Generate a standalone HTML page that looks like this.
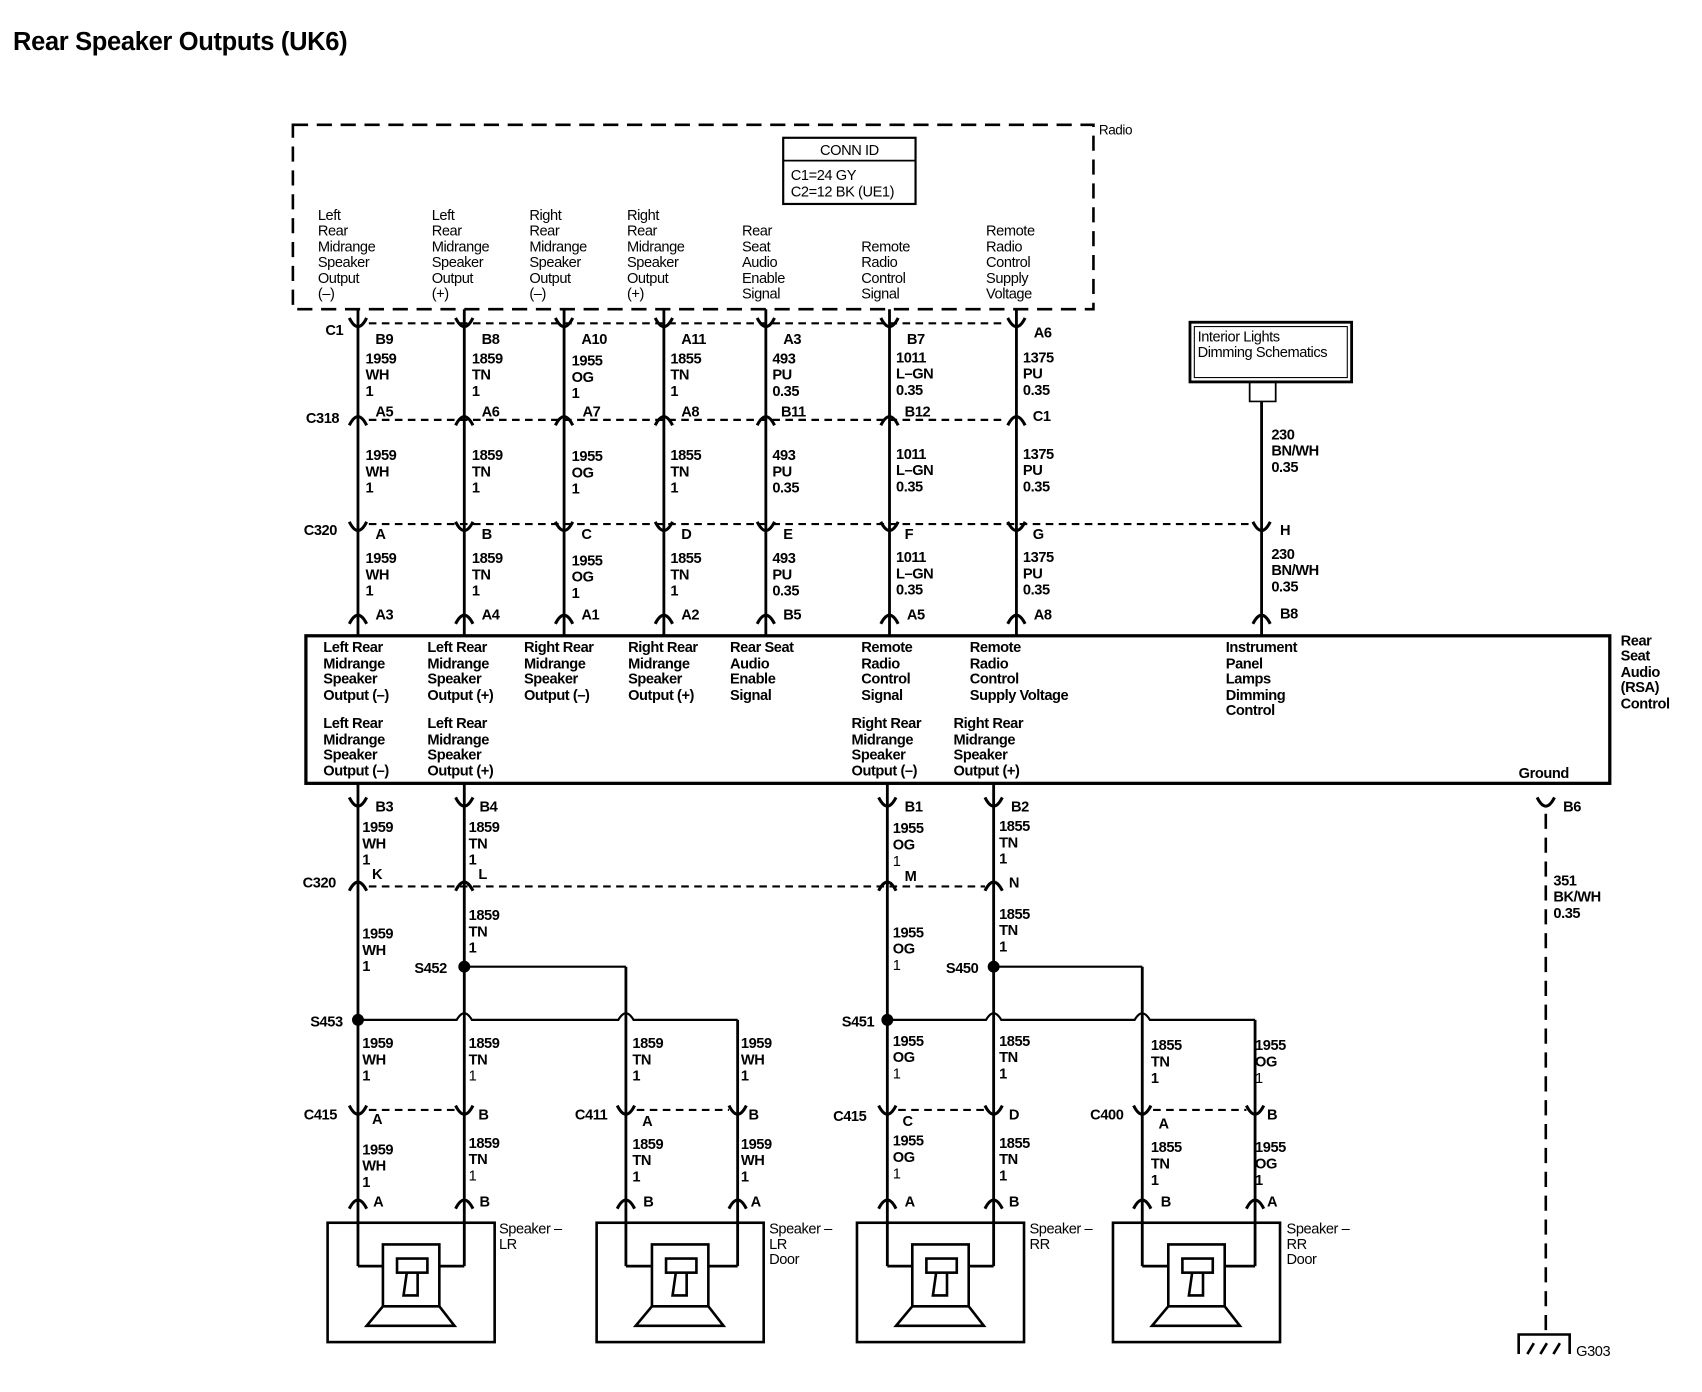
<!DOCTYPE html>
<html><head><meta charset="utf-8"><style>
html,body{margin:0;padding:0;background:#fff;}
svg{display:block}
text{font-family:"Liberation Sans",sans-serif;font-size:13.5px;font-weight:bold;fill:#000;letter-spacing:-0.4px}
.n{font-weight:normal}
.w{stroke:#000;stroke-width:2.6;fill:none}
.t{stroke:#000;stroke-width:1.6;fill:none}
.d{stroke:#000;stroke-width:2;fill:none;stroke-dasharray:7 5}
.s{stroke:#000;stroke-width:2.4;fill:none}
.a{stroke:#000;stroke-width:2.8;fill:none}
</style></head><body>
<svg width="1702" height="1392" viewBox="0 0 1569 1283" preserveAspectRatio="none" xmlns="http://www.w3.org/2000/svg">
<text x="12" y="46" style="font-size:23.5px;letter-spacing:-0.3px">Rear Speaker Outputs (UK6)</text>

<!-- Radio box -->
<rect x="270" y="115" width="738" height="170" class="d" style="stroke-width:2.4;stroke-dasharray:14 8"/>
<text x="1013" y="124" class="n" style="font-size:12.5px">Radio</text>
<rect x="722" y="127" width="122" height="61" class="s" style="stroke-width:2"/>
<line x1="722" y1="148" x2="844" y2="148" class="t"/>
<text x="783" y="143" text-anchor="middle" class="n">CONN ID</text>
<text x="729" y="166" class="n">C1=24 GY</text>
<text x="729" y="181" class="n">C2=12 BK (UE1)</text>

<g class="n">
<text x="293" y="203" class="n">Left</text><text x="293" y="217" class="n">Rear</text><text x="293" y="232" class="n">Midrange</text><text x="293" y="246" class="n">Speaker</text><text x="293" y="261" class="n">Output</text><text x="293" y="275" class="n">(–)</text>
<text x="398" y="203" class="n">Left</text><text x="398" y="217" class="n">Rear</text><text x="398" y="232" class="n">Midrange</text><text x="398" y="246" class="n">Speaker</text><text x="398" y="261" class="n">Output</text><text x="398" y="275" class="n">(+)</text>
<text x="488" y="203" class="n">Right</text><text x="488" y="217" class="n">Rear</text><text x="488" y="232" class="n">Midrange</text><text x="488" y="246" class="n">Speaker</text><text x="488" y="261" class="n">Output</text><text x="488" y="275" class="n">(–)</text>
<text x="578" y="203" class="n">Right</text><text x="578" y="217" class="n">Rear</text><text x="578" y="232" class="n">Midrange</text><text x="578" y="246" class="n">Speaker</text><text x="578" y="261" class="n">Output</text><text x="578" y="275" class="n">(+)</text>
<text x="684" y="217" class="n">Rear</text><text x="684" y="232" class="n">Seat</text><text x="684" y="246" class="n">Audio</text><text x="684" y="261" class="n">Enable</text><text x="684" y="275" class="n">Signal</text>
<text x="794" y="232" class="n">Remote</text><text x="794" y="246" class="n">Radio</text><text x="794" y="261" class="n">Control</text><text x="794" y="275" class="n">Signal</text>
<text x="909" y="217" class="n">Remote</text><text x="909" y="232" class="n">Radio</text><text x="909" y="246" class="n">Control</text><text x="909" y="261" class="n">Supply</text><text x="909" y="275" class="n">Voltage</text>
</g>

<!-- Interior lights box -->
<rect x="1097" y="297" width="149" height="55" class="s" style="stroke-width:2.6"/>
<rect x="1101" y="301" width="141" height="47" class="t" style="stroke-width:1"/>
<text x="1104" y="315" class="n">Interior Lights</text>
<text x="1104" y="329" class="n">Dimming Schematics</text>
<path d="M1152 352 V370 H1176 V352" class="t"/>

<!-- top wires -->
<g class="w">
<line x1="330" y1="285" x2="330" y2="586"/><line x1="428" y1="285" x2="428" y2="586"/>
<line x1="520" y1="285" x2="520" y2="586"/><line x1="612" y1="285" x2="612" y2="586"/>
<line x1="706" y1="285" x2="706" y2="586"/><line x1="820" y1="285" x2="820" y2="586"/>
<line x1="937" y1="285" x2="937" y2="586"/><line x1="1163" y1="370" x2="1163" y2="586"/>
</g>
<g class="d">
<line x1="340" y1="298" x2="928" y2="298"/>
<line x1="340" y1="387" x2="928" y2="387"/>
<line x1="340" y1="483" x2="1155" y2="483"/>
</g>
<!-- connector symbols top -->
<g class="a" fill="#fff">
<path d="M322 293 Q330 309 338 293"/><path d="M420 293 Q428 309 436 293"/><path d="M512 293 Q520 309 528 293"/><path d="M604 293 Q612 309 620 293"/><path d="M698 293 Q706 309 714 293"/><path d="M812 293 Q820 309 828 293"/><path d="M929 293 Q937 309 945 293"/>
<path d="M322 392 Q330 376 338 392"/><path d="M420 392 Q428 376 436 392"/><path d="M512 392 Q520 376 528 392"/><path d="M604 392 Q612 376 620 392"/><path d="M698 392 Q706 376 714 392"/><path d="M812 392 Q820 376 828 392"/><path d="M929 392 Q937 376 945 392"/>
<path d="M322 481 Q330 497 338 481"/><path d="M420 481 Q428 497 436 481"/><path d="M512 481 Q520 497 528 481"/><path d="M604 481 Q612 497 620 481"/><path d="M698 481 Q706 497 714 481"/><path d="M812 481 Q820 497 828 481"/><path d="M929 481 Q937 497 945 481"/><path d="M1155 481 Q1163 497 1171 481"/>
<path d="M322 575 Q330 559 338 575"/><path d="M420 575 Q428 559 436 575"/><path d="M512 575 Q520 559 528 575"/><path d="M604 575 Q612 559 620 575"/><path d="M698 575 Q706 559 714 575"/><path d="M812 575 Q820 559 828 575"/><path d="M929 575 Q937 559 945 575"/><path d="M1155 575 Q1163 559 1171 575"/>
</g>
<!-- connector labels top -->
<text x="300" y="309">C1</text><text x="346" y="317">B9</text><text x="444" y="317">B8</text><text x="536" y="317">A10</text><text x="628" y="317">A11</text><text x="722" y="317">A3</text><text x="836" y="317">B7</text><text x="953" y="311">A6</text>
<text x="282" y="390">C318</text><text x="346" y="384">A5</text><text x="444" y="384">A6</text><text x="537" y="384">A7</text><text x="628" y="384">A8</text><text x="720" y="384">B11</text><text x="834" y="384">B12</text><text x="952" y="388">C1</text>
<text x="280" y="493">C320</text><text x="346" y="497">A</text><text x="444" y="497">B</text><text x="536" y="497">C</text><text x="628" y="497">D</text><text x="722" y="497">E</text><text x="834" y="497">F</text><text x="952" y="497">G</text><text x="1180" y="493">H</text>
<text x="346" y="571">A3</text><text x="444" y="571">A4</text><text x="536" y="571">A1</text><text x="628" y="571">A2</text><text x="722" y="571">B5</text><text x="836" y="571">A5</text><text x="953" y="571">A8</text><text x="1180" y="570">B8</text>

<!-- wire labels top -->
<g>
<text x="337" y="335">1959</text><text x="337" y="350">WH</text><text x="337" y="365">1</text>
<text x="435" y="335">1859</text><text x="435" y="350">TN</text><text x="435" y="365">1</text>
<text x="527" y="337">1955</text><text x="527" y="352">OG</text><text x="527" y="367">1</text>
<text x="618" y="335">1855</text><text x="618" y="350">TN</text><text x="618" y="365">1</text>
<text x="712" y="335">493</text><text x="712" y="350">PU</text><text x="712" y="365">0.35</text>
<text x="826" y="334">1011</text><text x="826" y="349">L–GN</text><text x="826" y="364">0.35</text>
<text x="943" y="334">1375</text><text x="943" y="349">PU</text><text x="943" y="364">0.35</text>

<text x="337" y="424">1959</text><text x="337" y="439">WH</text><text x="337" y="454">1</text>
<text x="435" y="424">1859</text><text x="435" y="439">TN</text><text x="435" y="454">1</text>
<text x="527" y="425">1955</text><text x="527" y="440">OG</text><text x="527" y="455">1</text>
<text x="618" y="424">1855</text><text x="618" y="439">TN</text><text x="618" y="454">1</text>
<text x="712" y="424">493</text><text x="712" y="439">PU</text><text x="712" y="454">0.35</text>
<text x="826" y="423">1011</text><text x="826" y="438">L–GN</text><text x="826" y="453">0.35</text>
<text x="943" y="423">1375</text><text x="943" y="438">PU</text><text x="943" y="453">0.35</text>
<text x="1172" y="405">230</text><text x="1172" y="420">BN/WH</text><text x="1172" y="435">0.35</text>

<text x="337" y="519">1959</text><text x="337" y="534">WH</text><text x="337" y="549">1</text>
<text x="435" y="519">1859</text><text x="435" y="534">TN</text><text x="435" y="549">1</text>
<text x="527" y="521">1955</text><text x="527" y="536">OG</text><text x="527" y="551">1</text>
<text x="618" y="519">1855</text><text x="618" y="534">TN</text><text x="618" y="549">1</text>
<text x="712" y="519">493</text><text x="712" y="534">PU</text><text x="712" y="549">0.35</text>
<text x="826" y="518">1011</text><text x="826" y="533">L–GN</text><text x="826" y="548">0.35</text>
<text x="943" y="518">1375</text><text x="943" y="533">PU</text><text x="943" y="548">0.35</text>
<text x="1172" y="515">230</text><text x="1172" y="530">BN/WH</text><text x="1172" y="545">0.35</text>
</g>

<!-- RSA box -->
<rect x="282" y="586" width="1202" height="136" class="s" style="stroke-width:3"/>
<g>
<text x="298" y="601">Left Rear</text><text x="298" y="616">Midrange</text><text x="298" y="630">Speaker</text><text x="298" y="645">Output (–)</text>
<text x="394" y="601">Left Rear</text><text x="394" y="616">Midrange</text><text x="394" y="630">Speaker</text><text x="394" y="645">Output (+)</text>
<text x="483" y="601">Right Rear</text><text x="483" y="616">Midrange</text><text x="483" y="630">Speaker</text><text x="483" y="645">Output (–)</text>
<text x="579" y="601">Right Rear</text><text x="579" y="616">Midrange</text><text x="579" y="630">Speaker</text><text x="579" y="645">Output (+)</text>
<text x="673" y="601">Rear Seat</text><text x="673" y="616">Audio</text><text x="673" y="630">Enable</text><text x="673" y="645">Signal</text>
<text x="794" y="601">Remote</text><text x="794" y="616">Radio</text><text x="794" y="630">Control</text><text x="794" y="645">Signal</text>
<text x="894" y="601">Remote</text><text x="894" y="616">Radio</text><text x="894" y="630">Control</text><text x="894" y="645">Supply Voltage</text>
<text x="1130" y="601">Instrument</text><text x="1130" y="616">Panel</text><text x="1130" y="630">Lamps</text><text x="1130" y="645">Dimming</text><text x="1130" y="659">Control</text>
<text x="298" y="671">Left Rear</text><text x="298" y="686">Midrange</text><text x="298" y="700">Speaker</text><text x="298" y="715">Output (–)</text>
<text x="394" y="671">Left Rear</text><text x="394" y="686">Midrange</text><text x="394" y="700">Speaker</text><text x="394" y="715">Output (+)</text>
<text x="785" y="671">Right Rear</text><text x="785" y="686">Midrange</text><text x="785" y="700">Speaker</text><text x="785" y="715">Output (–)</text>
<text x="879" y="671">Right Rear</text><text x="879" y="686">Midrange</text><text x="879" y="700">Speaker</text><text x="879" y="715">Output (+)</text>
<text x="1400" y="717">Ground</text>
<text x="1494" y="595">Rear</text><text x="1494" y="609">Seat</text><text x="1494" y="624">Audio</text><text x="1494" y="638">(RSA)</text><text x="1494" y="653">Control</text>
</g>

<!-- bottom wires -->
<g class="w">
<line x1="330" y1="722" x2="330" y2="1167"/><line x1="330" y1="1167" x2="353" y2="1167"/>
<line x1="428" y1="722" x2="428" y2="1167"/><line x1="428" y1="1167" x2="405" y2="1167"/>
<line x1="577" y1="891" x2="577" y2="1167"/><line x1="577" y1="1167" x2="600" y2="1167"/>
<line x1="680" y1="940" x2="680" y2="1167"/><line x1="680" y1="1167" x2="652" y2="1167"/>
<line x1="818" y1="722" x2="818" y2="1167"/><line x1="818" y1="1167" x2="841" y2="1167"/>
<line x1="916" y1="722" x2="916" y2="1167"/><line x1="916" y1="1167" x2="893" y2="1167"/>
<line x1="1053" y1="891" x2="1053" y2="1167"/><line x1="1053" y1="1167" x2="1077" y2="1167"/>
<line x1="1157" y1="940" x2="1157" y2="1167"/><line x1="1157" y1="1167" x2="1129" y2="1167"/>
</g>
<g class="s" style="stroke-width:2">
<path d="M428 891 H577"/>
<path d="M330 940 H421 Q428 928 435 940 H570 Q577 928 584 940 H680"/>
<path d="M916 891 H1053"/>
<path d="M818 940 H909 Q916 928 923 940 H1046 Q1053 928 1060 940 H1157"/>
</g>
<circle cx="428" cy="891" r="5.5"/><circle cx="330" cy="940" r="5.5"/><circle cx="818" cy="940" r="5.5"/><circle cx="916" cy="891" r="5.5"/>
<text x="382" y="897">S452</text><text x="286" y="946">S453</text><text x="776" y="946">S451</text><text x="872" y="897">S450</text>

<g class="d">
<line x1="340" y1="817" x2="908" y2="817"/>
<line x1="340" y1="1023" x2="420" y2="1023"/><line x1="587" y1="1023" x2="672" y2="1023"/>
<line x1="828" y1="1023" x2="908" y2="1023"/><line x1="1063" y1="1023" x2="1149" y2="1023"/>
<line x1="1425" y1="750" x2="1425" y2="1232" style="stroke-width:2.4;stroke-dasharray:14 8"/>
</g>
<g class="a" fill="#fff">
<path d="M322 735 Q330 751 338 735"/><path d="M420 735 Q428 751 436 735"/><path d="M810 735 Q818 751 826 735"/><path d="M908 735 Q916 751 924 735"/><path d="M1417 735 Q1425 751 1433 735"/>
<path d="M322 821 Q330 805 338 821"/><path d="M420 821 Q428 805 436 821"/><path d="M810 821 Q818 805 826 821"/><path d="M908 821 Q916 805 924 821"/>
<path d="M322 1019 Q330 1035 338 1019"/><path d="M420 1019 Q428 1035 436 1019"/><path d="M569 1019 Q577 1035 585 1019"/><path d="M672 1019 Q680 1035 688 1019"/>
<path d="M810 1019 Q818 1035 826 1019"/><path d="M908 1019 Q916 1035 924 1019"/><path d="M1045 1019 Q1053 1035 1061 1019"/><path d="M1149 1019 Q1157 1035 1165 1019"/>
<path d="M322 1114 Q330 1098 338 1114"/><path d="M420 1114 Q428 1098 436 1114"/><path d="M569 1114 Q577 1098 585 1114"/><path d="M672 1114 Q680 1098 688 1114"/>
<path d="M810 1114 Q818 1098 826 1114"/><path d="M908 1114 Q916 1098 924 1114"/><path d="M1045 1114 Q1053 1098 1061 1114"/><path d="M1149 1114 Q1157 1098 1165 1114"/>
</g>
<text x="346" y="748">B3</text><text x="442" y="748">B4</text><text x="834" y="748">B1</text><text x="932" y="748">B2</text><text x="1441" y="748">B6</text>
<text x="279" y="818">C320</text><text x="343" y="810">K</text><text x="441" y="810">L</text><text x="834" y="812">M</text><text x="930" y="818">N</text>
<text x="280" y="1032">C415</text><text x="343" y="1036">A</text><text x="441" y="1032">B</text>
<text x="530" y="1032">C411</text><text x="592" y="1038">A</text><text x="690" y="1032">B</text>
<text x="768" y="1033">C415</text><text x="832" y="1038">C</text><text x="930" y="1032">D</text>
<text x="1005" y="1032">C400</text><text x="1068" y="1040">A</text><text x="1168" y="1032">B</text>
<text x="344" y="1112">A</text><text x="442" y="1112">B</text><text x="593" y="1112">B</text><text x="692" y="1112">A</text>
<text x="834" y="1112">A</text><text x="930" y="1112">B</text><text x="1070" y="1112">B</text><text x="1168" y="1112">A</text>

<g>
<text x="334" y="767">1959</text><text x="334" y="782">WH</text><text x="334" y="797">1</text>
<text x="432" y="767">1859</text><text x="432" y="782">TN</text><text x="432" y="797">1</text>
<text x="823" y="768">1955</text><text x="823" y="783">OG</text><text x="823" y="798" class="n">1</text>
<text x="921" y="766">1855</text><text x="921" y="781">TN</text><text x="921" y="796">1</text>
<text x="1432" y="816">351</text><text x="1432" y="831">BK/WH</text><text x="1432" y="846">0.35</text>

<text x="334" y="865">1959</text><text x="334" y="880">WH</text><text x="334" y="895">1</text>
<text x="432" y="848">1859</text><text x="432" y="863">TN</text><text x="432" y="878">1</text>
<text x="823" y="864">1955</text><text x="823" y="879">OG</text><text x="823" y="894" class="n">1</text>
<text x="921" y="847">1855</text><text x="921" y="862">TN</text><text x="921" y="877">1</text>

<text x="334" y="966">1959</text><text x="334" y="981">WH</text><text x="334" y="996">1</text>
<text x="432" y="966">1859</text><text x="432" y="981">TN</text><text x="432" y="996" class="n">1</text>
<text x="583" y="966">1859</text><text x="583" y="981">TN</text><text x="583" y="996">1</text>
<text x="683" y="966">1959</text><text x="683" y="981">WH</text><text x="683" y="996">1</text>
<text x="823" y="964">1955</text><text x="823" y="979">OG</text><text x="823" y="994" class="n">1</text>
<text x="921" y="964">1855</text><text x="921" y="979">TN</text><text x="921" y="994">1</text>
<text x="1061" y="968">1855</text><text x="1061" y="983">TN</text><text x="1061" y="998">1</text>
<text x="1157" y="968">1955</text><text x="1157" y="983">OG</text><text x="1157" y="998" class="n">1</text>

<text x="334" y="1064">1959</text><text x="334" y="1079">WH</text><text x="334" y="1094">1</text>
<text x="432" y="1058">1859</text><text x="432" y="1073">TN</text><text x="432" y="1088" class="n">1</text>
<text x="583" y="1059">1859</text><text x="583" y="1074">TN</text><text x="583" y="1089">1</text>
<text x="683" y="1059">1959</text><text x="683" y="1074">WH</text><text x="683" y="1089">1</text>
<text x="823" y="1056">1955</text><text x="823" y="1071">OG</text><text x="823" y="1086" class="n">1</text>
<text x="921" y="1058">1855</text><text x="921" y="1073">TN</text><text x="921" y="1088">1</text>
<text x="1061" y="1062">1855</text><text x="1061" y="1077">TN</text><text x="1061" y="1092">1</text>
<text x="1157" y="1062">1955</text><text x="1157" y="1077">OG</text><text x="1157" y="1092">1</text>
</g>

<!-- speakers -->
<g id="spk" class="s" style="stroke-width:2.4">
<rect x="302" y="1127" width="154" height="110"/>
<path d="M353 1204 V1147 H405 V1204"/>
<rect x="366" y="1160" width="28" height="13" fill="#fff"/>
<path d="M375 1173 L372 1194 H385 V1173"/>
<path d="M353 1204 H405 L419 1222 H338 Z"/>
</g>
<use href="#spk" x="248"/>
<use href="#spk" x="488"/>
<use href="#spk" x="724"/>
<text x="460" y="1137" class="n">Speaker –</text><text x="460" y="1151" class="n">LR</text>
<text x="709" y="1137" class="n">Speaker –</text><text x="709" y="1151" class="n">LR</text><text x="709" y="1165" class="n">Door</text>
<text x="949" y="1137" class="n">Speaker –</text><text x="949" y="1151" class="n">RR</text>
<text x="1186" y="1137" class="n">Speaker –</text><text x="1186" y="1151" class="n">RR</text><text x="1186" y="1165" class="n">Door</text>

<!-- ground -->
<g class="s" style="stroke-width:2.4">
<path d="M1400 1248 V1230 H1447 V1248"/>
<path d="M1408 1248 L1414 1238 M1420 1248 L1426 1238 M1432 1248 L1438 1238"/>
</g>
<text x="1453" y="1250" class="n">G303</text>
</svg>
</body></html>
